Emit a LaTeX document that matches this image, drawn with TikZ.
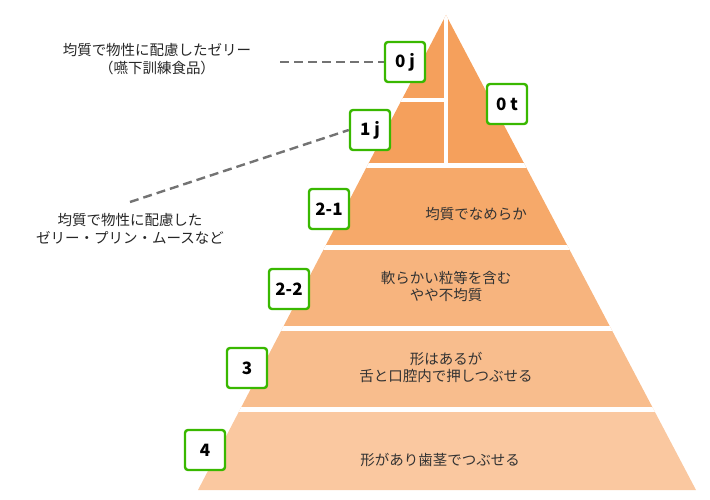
\documentclass[tikz,border=0pt]{standalone}
\usepackage{fontspec}
\setmainfont{Noto Sans CJK JP}
\tikzset{
	levelstyle/.style={rectangle,rounded corners=3pt,draw=green!60!black!70!lime,line width=2.4pt,fill=white,minimum size=40pt,inner sep=0pt,font=\fontsize{17}{17}\selectfont\bfseries},
	textstyle/.style={align=center,font=\fontsize{14.5}{17}\selectfont,text=black!80},
	notestyle/.style={align=center,font=\fontsize{14.5}{18}\selectfont,text=black!85},
	leaderstyle/.style={draw=black!55,line width=2.4pt,dash pattern=on 9pt off 5pt}
}
\definecolor{band0}{HTML}{F5A05C}
\definecolor{band1}{HTML}{F6A96A}
\definecolor{band2}{HTML}{F7B47E}
\definecolor{band3}{HTML}{F8BD8D}
\definecolor{band4}{HTML}{FAC8A0}
\begin{document}
\begin{tikzpicture}[x=1pt,y=-1pt]
		\useasboundingbox (0,0) rectangle (710,500);
		\begin{scope}
		\clip (446,15) -- (696,490) -- (198,490) -- cycle;
		\fill[band0] (0,0) rectangle (710,165.5);
		\fill[band1] (0,165.5) rectangle (710,247.5);
		\fill[band2] (0,247.5) rectangle (710,328.5);
		\fill[band3] (0,328.5) rectangle (710,409.5);
		\fill[band4] (0,409.5) rectangle (710,500);
		\draw[white,line width=5pt] (0,165.5) -- (710,165.5);
		\draw[white,line width=5pt] (0,247.5) -- (710,247.5);
		\draw[white,line width=5pt] (0,328.5) -- (710,328.5);
		\draw[white,line width=5pt] (0,409.5) -- (710,409.5);
		\draw[white,line width=4pt] (446,0) -- (446,165.5);
		\draw[white,line width=3.5pt] (300,100) -- (446,100);
		\end{scope}
		\node[textstyle] (t21) at (476,214) {均質でなめらか};
		\node[textstyle] (t22) at (446,286) {軟らかい粒等を含む\\やや不均質};
		\node[textstyle] (t3) at (446,367) {形はあるが\\舌と口腔内で押しつぶせる};
		\node[textstyle] (t4) at (440,460) {形があり歯茎でつぶせる};
		\node[levelstyle] (l0j) at (405,62) {0 j};
		\node[levelstyle] (l0t) at (507,104) {0 t};
		\node[levelstyle] (l1j) at (370,130) {1 j};
		\node[levelstyle] (l21) at (329,209) {2-1};
		\node[levelstyle] (l22) at (289,289) {2-2};
		\node[levelstyle] (l3) at (247,368) {3};
		\node[levelstyle] (l4) at (205,450) {4};
		\node[notestyle] (n0) at (157,59) {均質で物性に配慮したゼリー\\（嚥下訓練食品）};
		\node[notestyle] (n1) at (130,229) {均質で物性に配慮した\\ゼリー・プリン・ムースなど};
		\coordinate (c0) at (280,62);
		\coordinate (c1) at (130,202);
		\draw[leaderstyle] (c0) -- (l0j.west);
		\draw[leaderstyle] (c1) -- (l1j.west);
\end{tikzpicture}
\end{document}
